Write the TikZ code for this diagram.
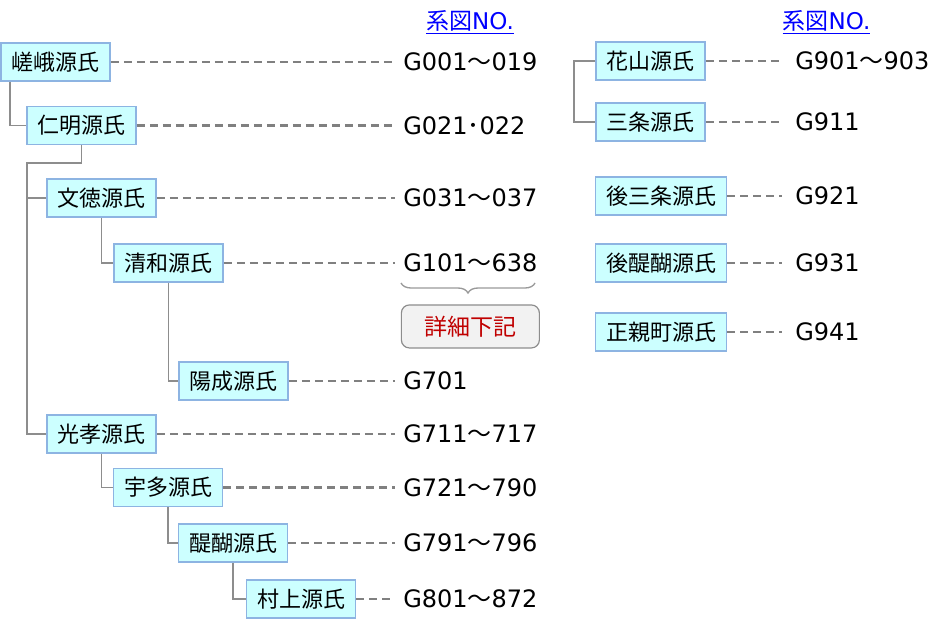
\documentclass[tikz,border=0pt]{standalone}
\usepackage{fontspec}
\setmainfont{DejaVu Sans}
\newfontfamily\jp{Noto Sans CJK JP}
\usepackage{xcolor}
\usepackage{tikz}
\usetikzlibrary{positioning,decorations.pathreplacing}
\definecolor{boxfill}{RGB}{204,255,255}
\definecolor{boxline}{RGB}{141,180,226}
\definecolor{linegray}{RGB}{128,128,128}
\definecolor{notered}{RGB}{192,0,0}
\definecolor{notefill}{RGB}{242,242,242}
\definecolor{linkblue}{RGB}{0,0,255}

\begin{document}
\begin{tikzpicture}[x=0.75pt,y=-0.75pt,
	clan/.style={draw=boxline,line width=1.1pt,fill=boxfill,inner xsep=8pt,minimum height=28.5pt,font=\jp\fontsize{16.5}{19}\selectfont},
	gno/.style={anchor=west,inner xsep=6pt,inner ysep=0pt,font=\fontsize{18}{21}\selectfont},
	hdr/.style={text=linkblue,font=\fontsize{17.25}{20}\selectfont},
	note/.style={draw=linegray!90,line width=0.9pt,fill=notefill,rounded corners=6pt,minimum width=103.5pt,minimum height=32.25pt,text=notered,font=\jp\fontsize{17.25}{20}\selectfont},
	guide/.style={draw=linegray,line width=1.8pt,dash pattern=on 6pt off 3.75pt},
	branch/.style={draw=linegray!90,line width=1.3pt},
	bracket/.style={draw=linegray!80,line width=1pt,decorate,decoration={brace,mirror,amplitude=7.5pt}}]
		\useasboundingbox (0,0) rectangle (941,628);

		% headers
		\node[hdr] (hdleft) at (470,22) {\underline{{\jp 系図}NO.}};
		\node[hdr] (hdright) at (826.5,22) {\underline{{\jp 系図}NO.}};

		% left tree
		\node[clan] (saga) at (55.5,62) {嵯峨源氏};
		\node[clan] (ninmyo) at (81.5,125.5) {仁明源氏};
		\node[clan] (montoku) at (101.5,198) {文徳源氏};
		\node[clan] (seiwa) at (168.5,263) {清和源氏};
		\node[clan] (yozei) at (233.5,381) {陽成源氏};
		\node[clan] (kouko) at (101.5,434) {光孝源氏};
		\node[clan] (uda) at (168,487.5) {宇多源氏};
		\node[clan] (daigo) at (233,543) {醍醐源氏};
		\node[clan] (murakami) at (301,599) {村上源氏};

		% right column
		\node[clan] (kazan) at (650.5,61) {花山源氏};
		\node[clan] (sanjo) at (650.5,122) {三条源氏};
		\node[clan] (gosanjo) at (661,196) {後三条源氏};
		\node[clan] (godaigo) at (661,263) {後醍醐源氏};
		\node[clan] (ogimachi) at (661,332) {正親町源氏};

		% numbers
		\node[gno] (g001) at (395,62) {G001{\jp ～}019};
		\node[gno] (g021) at (395,125.5) {G021{\jp ･}022};
		\node[gno] (g031) at (395,198) {G031{\jp ～}037};
		\node[gno] (g101) at (395,263) {G101{\jp ～}638};
		\node[gno] (g701) at (395,381) {G701};
		\node[gno] (g711) at (395,434) {G711{\jp ～}717};
		\node[gno] (g721) at (395,487.5) {G721{\jp ～}790};
		\node[gno] (g791) at (395,543) {G791{\jp ～}796};
		\node[gno] (g801) at (395,599) {G801{\jp ～}872};
		\node[gno,inner xsep=9.75pt] (g901) at (782,61) {G901{\jp ～}903};
		\node[gno,inner xsep=9.75pt] (g911) at (782,122) {G911};
		\node[gno,inner xsep=9.75pt] (g921) at (782,196) {G921};
		\node[gno,inner xsep=9.75pt] (g931) at (782,263) {G931};
		\node[gno,inner xsep=9.75pt] (g941) at (782,332) {G941};

		\coordinate (bl) at (401,283);
		\coordinate (br) at (535,283);
		\draw[bracket] (bl) -- (br);
		\node[note] (detail) [below=24pt of g101] {詳細下記};

		% tree lines
		\coordinate (fork) at (27,163);
		\coordinate (kfork) at (574,61);
		\draw[branch] ([xshift=7.5pt]saga.south west) |- (ninmyo.west);
		\draw[branch] (ninmyo.south) |- (fork) |- (kouko.west);
		\draw[branch] (fork |- montoku.west) -- (montoku.west);
		\draw[branch] (montoku.south) |- (seiwa.west);
		\draw[branch] (seiwa.south) |- (yozei.west);
		\draw[branch] (kouko.south) |- (uda.west);
		\draw[branch] (uda.south) |- (daigo.west);
		\draw[branch] (daigo.south) |- (murakami.west);
		\draw[branch] (kazan.west) -- (kfork) |- (sanjo.west);

		% dashed leaders
		\draw[guide] (saga.east) -- (saga.east -| g001.west);
		\draw[guide] (ninmyo.east) -- (ninmyo.east -| g021.west);
		\draw[guide] (montoku.east) -- (montoku.east -| g031.west);
		\draw[guide] (seiwa.east) -- (seiwa.east -| g101.west);
		\draw[guide] (yozei.east) -- (yozei.east -| g701.west);
		\draw[guide] (kouko.east) -- (kouko.east -| g711.west);
		\draw[guide] (uda.east) -- (uda.east -| g721.west);
		\draw[guide] (daigo.east) -- (daigo.east -| g791.west);
		\draw[guide] (murakami.east) -- (murakami.east -| g801.west);
		\draw[guide] (kazan.east) -- (kazan.east -| g901.west);
		\draw[guide] (sanjo.east) -- (sanjo.east -| g911.west);
		\draw[guide] (gosanjo.east) -- (gosanjo.east -| g921.west);
		\draw[guide] (godaigo.east) -- (godaigo.east -| g931.west);
		\draw[guide] (ogimachi.east) -- (ogimachi.east -| g941.west);
	\end{tikzpicture}
\end{document}
